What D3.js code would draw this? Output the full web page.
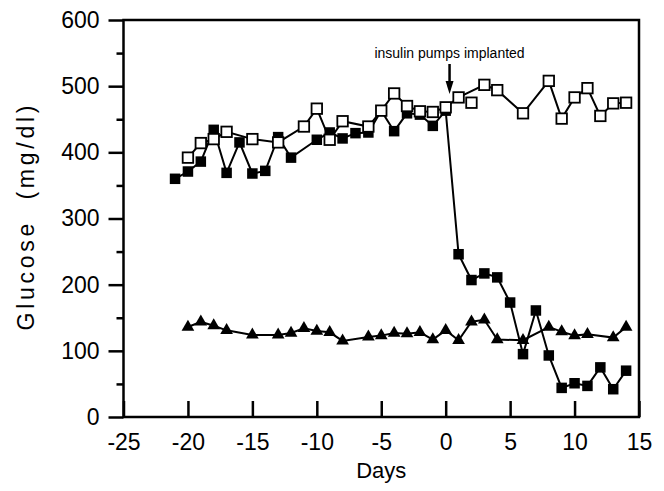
<!DOCTYPE html>
<html lang="en">
<head>
  <meta charset="utf-8">
  <script src="https://d3js.org/d3.v7.min.js"></script>
  <style>
    body { margin: 0; background: #fff; }
    svg text { font-family: "Liberation Sans", Arial, sans-serif; fill: #000; }
  </style>
</head>
<body>
<svg id="chart" width="664" height="491"></svg>

<script>
  // Filled squares
  const filledDays = [-21, -20, -19, -18, -17, -16, -15, -14, -13, -12, -10, -9, -8, -7, -6, -5, -4, -3, -2, -1, 0,
    1, 2, 3, 4, 5, 6, 7, 8, 9, 10, 11, 12, 13, 14];
  const filledGlucose = [360, 371, 386, 434, 369, 415, 368, 372, 423, 392, 419, 430, 421, 429, 430, 463, 432, 459, 457, 440, 463,
    246, 207, 217, 211, 173, 95, 161, 93, 44, 51, 47, 75, 42, 70];

  // Open squares
  const openDays = [-20, -19, -18, -17, -15, -13, -11, -10, -9, -8, -6, -5, -4, -3, -2, -1, 0, 1,
    3, 4, 6, 8, 9, 10, 11, 12, 13, 14];
  const openGlucose = [392, 414, 420, 431, 420, 415, 439, 466, 419, 447, 439, 463, 489, 470, 462, 461, 468, 483,
    502, 494, 459, 508, 451, 483, 497, 455, 474, 475];
  // lone open square not joined by the line
  const openExtraDays = [2];
  const openExtraGlucose = [475];

  // Triangles
  const triDays = [-20, -19, -18, -17, -15, -13, -12, -11, -10, -9, -8, -6, -5, -4, -3, -2, -1, 0, 1, 2,
    3, 4, 6, 8, 9, 10, 11, 13, 14];
  const triGlucose = [136, 144, 138, 131, 124, 124, 127, 134, 130, 128, 115, 121, 123, 127, 126, 128, 117, 131, 116, 144,
    147, 117, 116, 136, 129, 123, 125, 120, 136];

  const xTicks = [-25, -20, -15, -10, -5, 0, 5, 10, 15];
  const yTicks = [0, 100, 200, 300, 400, 500, 600];
  const yMinorTicks = [50, 150, 250, 350, 450, 550];

  const annotationText = "insulin pumps implanted";
  const annotationDay = 0.3;

  function zip(xs, ys) {
    return xs.map((d, i) => ({ day: d, glucose: ys[i] }));
  }

  const svg = d3.select("#chart");

  // plot area
  const plotLeft = 123.5, plotRight = 639, plotTop = 20, plotBottom = 417;

  const x = d3.scaleLinear().domain([-25, 15]).range([plotLeft, plotRight]);
  const y = d3.scaleLinear().domain([0, 600]).range([plotBottom, plotTop]);

  // frame
  svg.append("rect")
    .attr("x", plotLeft).attr("y", plotTop)
    .attr("width", plotRight - plotLeft).attr("height", plotBottom - plotTop)
    .attr("fill", "none").attr("stroke", "#000").attr("stroke-width", 2.5);

  // y axis, major ticks pointing out
  const yAxis = svg.append("g")
    .attr("transform", `translate(${plotLeft},0)`)
    .call(d3.axisLeft(y).tickValues(yTicks).tickSize(15).tickPadding(9).tickFormat(d3.format("d")));
  yAxis.select(".domain").remove();
  yAxis.selectAll("line").attr("stroke-width", 2.5);
  yAxis.selectAll("text").attr("font-size", 23).attr("font-family", null);

  // minor ticks
  const yMinor = svg.append("g")
    .attr("transform", `translate(${plotLeft},0)`)
    .call(d3.axisLeft(y).tickValues(yMinorTicks).tickSize(7).tickFormat(""));
  yMinor.select(".domain").remove();
  yMinor.selectAll("line").attr("stroke-width", 2.5);

  // x axis, ticks pointing in
  const xAxis = svg.append("g")
    .attr("transform", `translate(0,${plotBottom})`)
    .call(d3.axisBottom(x).tickValues(xTicks).tickSize(-16).tickPadding(17).tickFormat(d3.format("d")));
  xAxis.select(".domain").remove();
  xAxis.selectAll("line").attr("stroke-width", 2.5);
  xAxis.selectAll("text").attr("font-size", 23).attr("font-family", null)
    .text(d => d < 0 ? "-" + Math.abs(d) : d);

  // axis titles
  svg.append("text")
    .attr("x", (plotLeft + plotRight) / 2).attr("y", 478)
    .attr("text-anchor", "middle").attr("font-size", 22)
    .text("Days");

  svg.append("text")
    .attr("transform", "translate(34,218) rotate(-90)")
    .attr("text-anchor", "middle").attr("font-size", 23)
    .attr("xml:space", "preserve")
    .attr("textLength", 225).attr("lengthAdjust", "spacing")
    .text("Glucose  (mg/dl)");

  const line = d3.line().x(d => x(d.day)).y(d => y(d.glucose));

  const triData = zip(triDays, triGlucose);
  const filledData = zip(filledDays, filledGlucose);
  const openData = zip(openDays, openGlucose);
  const openExtra = zip(openExtraDays, openExtraGlucose);

  // lines
  [triData, filledData, openData].forEach(data => {
    svg.append("path")
      .datum(data)
      .attr("d", line)
      .attr("fill", "none")
      .attr("stroke", "#000")
      .attr("stroke-width", 2);
  });

  // triangle markers
  svg.selectAll(".tri")
    .data(triData)
    .join("path")
    .attr("class", "tri")
    .attr("d", d3.symbol(d3.symbolTriangle, 70))
    .attr("transform", d => `translate(${x(d.day)},${y(d.glucose)})`)
    .attr("fill", "#000");

  // filled squares
  const sq = 10.5;
  svg.selectAll(".filled")
    .data(filledData)
    .join("rect")
    .attr("class", "filled")
    .attr("x", d => x(d.day) - sq / 2)
    .attr("y", d => y(d.glucose) - sq / 2)
    .attr("width", sq).attr("height", sq)
    .attr("fill", "#000");

  // open squares
  svg.selectAll(".open")
    .data(openData.concat(openExtra))
    .join("rect")
    .attr("class", "open")
    .attr("x", d => x(d.day) - sq / 2)
    .attr("y", d => y(d.glucose) - sq / 2)
    .attr("width", sq).attr("height", sq)
    .attr("fill", "#fff")
    .attr("stroke", "#000")
    .attr("stroke-width", 1.8);

  // annotation with arrow
  const ax = x(annotationDay);
  svg.append("text")
    .attr("x", ax).attr("y", 58)
    .attr("text-anchor", "middle").attr("font-size", 14)
    .text(annotationText);

  svg.append("line")
    .attr("x1", ax).attr("x2", ax)
    .attr("y1", 64).attr("y2", 84)
    .attr("stroke", "#000").attr("stroke-width", 2.5);

  svg.append("path")
    .attr("d", `M${ax - 4},${81} L${ax + 4},${81} L${ax},${94} Z`)
    .attr("fill", "#000");
</script>
</body>
</html>
